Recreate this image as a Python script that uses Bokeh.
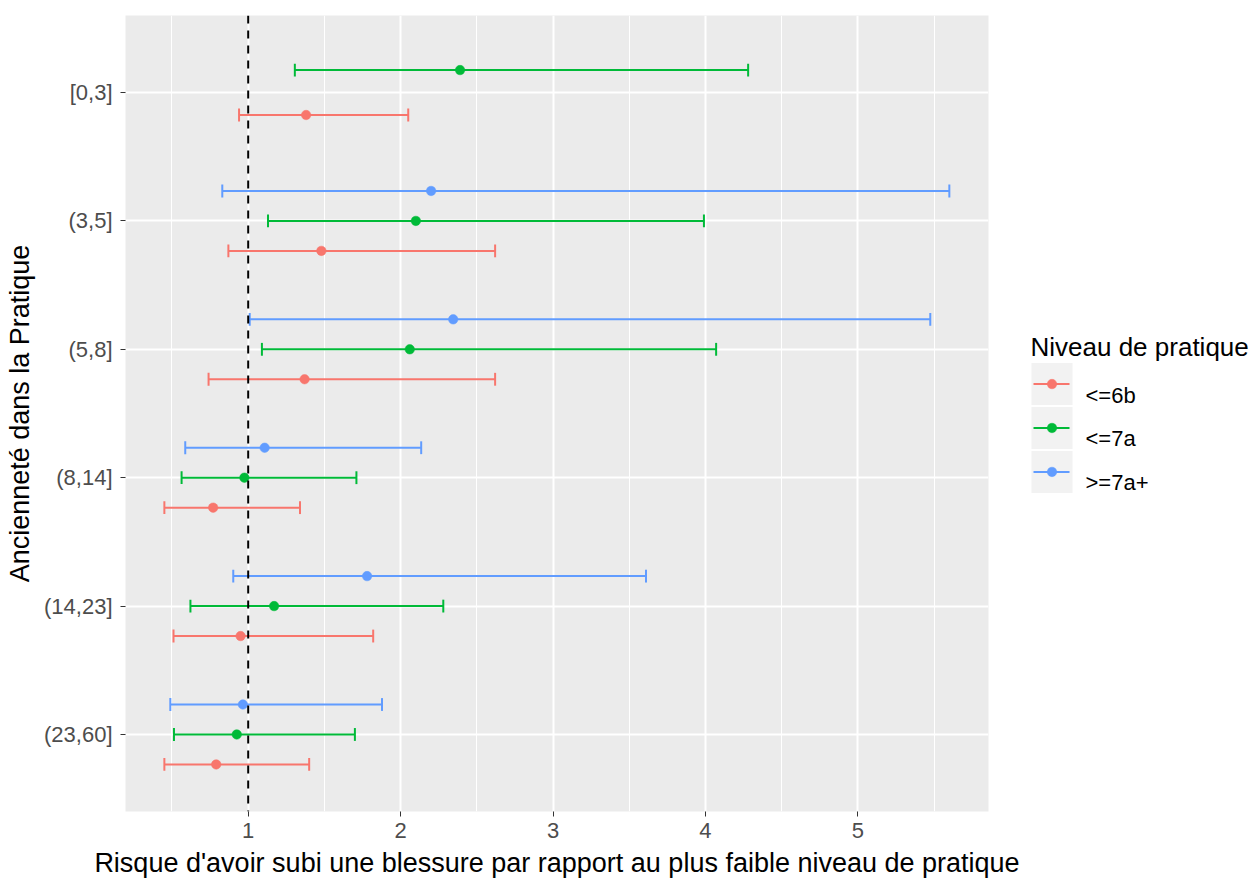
from bokeh.plotting import figure
from bokeh.models import FixedTicker, ColumnDataSource, Span, Range1d
from bokeh.layouts import row
from bokeh.embed import file_html
from bokeh.resources import INLINE
from bokeh.core.properties import value

# ---------------- data ----------------
categories = ["[0,3]", "(3,5]", "(5,8]", "(8,14]", "(14,23]", "(23,60]"]
levels = ["<=6b", "<=7a", ">=7a+"]
colors = ["#F8766D", "#00BA38", "#619CFF"]

est_6b = [1.38, 1.48, 1.37, 0.77, 0.95, 0.79]
low_6b = [0.94, 0.87, 0.74, 0.45, 0.51, 0.45]
high_6b = [2.05, 2.62, 2.62, 1.34, 1.82, 1.40]

est_7a = [2.39, 2.10, 2.06, 0.975, 1.17, 0.925]
low_7a = [1.306, 1.13, 1.09, 0.563, 0.621, 0.513]
high_7a = [4.28, 3.99, 4.07, 1.71, 2.28, 1.70]

est_7ap = [None, 2.20, 2.345, 1.108, 1.78, 0.965]
low_7ap = [None, 0.83, 1.01, 0.587, 0.902, 0.489]
high_7ap = [None, 5.60, 5.475, 2.135, 3.61, 1.878]

estimates = [est_6b, est_7a, est_7ap]
lows = [low_6b, low_7a, low_7ap]
highs = [high_6b, high_7a, high_7ap]

x_ticks = [1, 2, 3, 4, 5]
x_minor = [0.5, 1.5, 2.5, 3.5, 4.5, 5.5]
x_title = "Risque d'avoir subi une blessure par rapport au plus faible niveau de pratique"
y_title = "Ancienneté dans la Pratique"
legend_title = "Niveau de pratique"
ref_line = 1.0

FONT = "Liberation Sans"
DODGE = 0.7
CAP = 0.05
H = 880
FR_TOP, FR_BOTTOM, FR_LEFT, FR_RIGHT = 15, 812, 125, 988

# ---------------- main panel ----------------
n = len(categories)
cat_pos = {c: n - i for i, c in enumerate(categories)}   # top category first

MAIN_W = 1030
p = figure(width=MAIN_W, height=H,
           x_range=Range1d(0.195, 5.857), y_range=Range1d(0.4, n + 0.6),
           output_backend="svg", toolbar_location=None,
           min_border_left=FR_LEFT, min_border_right=MAIN_W - FR_RIGHT,
           min_border_top=FR_TOP, min_border_bottom=H - FR_BOTTOM)
p.background_fill_color = "#EBEBEB"
p.border_fill_color = "white"
p.outline_line_color = None

# dodge positions (like ggplot position_dodge(width=0.7))
ypos = [[None] * n for _ in levels]
for ci, c in enumerate(categories):
    present = [li for li in range(len(levels)) if estimates[li][ci] is not None]
    k = len(present)
    for j, li in enumerate(present):
        ypos[li][ci] = cat_pos[c] - DODGE / 2 + DODGE / k * (j + 0.5)

for li, lev in enumerate(levels):
    idx = [ci for ci in range(n) if estimates[li][ci] is not None]
    src = ColumnDataSource(dict(
        y=[ypos[li][ci] for ci in idx],
        ylo=[ypos[li][ci] - CAP for ci in idx],
        yhi=[ypos[li][ci] + CAP for ci in idx],
        est=[estimates[li][ci] for ci in idx],
        lo=[lows[li][ci] for ci in idx],
        hi=[highs[li][ci] for ci in idx],
    ))
    col = colors[li]
    p.segment(x0="lo", y0="y", x1="hi", y1="y", source=src, line_color=col, line_width=2)
    p.segment(x0="lo", y0="ylo", x1="lo", y1="yhi", source=src, line_color=col, line_width=2)
    p.segment(x0="hi", y0="ylo", x1="hi", y1="yhi", source=src, line_color=col, line_width=2)

for li, lev in enumerate(levels):
    idx = [ci for ci in range(n) if estimates[li][ci] is not None]
    src = ColumnDataSource(dict(
        y=[ypos[li][ci] for ci in idx],
        est=[estimates[li][ci] for ci in idx],
    ))
    p.scatter(x="est", y="y", source=src, size=9.5, fill_color=colors[li],
              line_color=colors[li], line_width=0.5)

p.add_layout(Span(location=ref_line, dimension="height", line_color="black",
                  line_dash="8 7", line_width=2))

# axes
xt = FixedTicker(ticks=x_ticks, minor_ticks=x_minor)
yt = FixedTicker(ticks=[cat_pos[c] for c in categories], minor_ticks=[])
p.xaxis.ticker = xt
p.yaxis.ticker = yt
p.xgrid.ticker = xt
p.ygrid.ticker = yt
p.yaxis.major_label_overrides = {cat_pos[c]: c for c in categories}

for ax in (p.xaxis, p.yaxis):
    ax.axis_line_color = None
    ax.major_tick_line_color = "#333333"
    ax.major_tick_line_width = 1
    ax.major_tick_out = 5
    ax.major_tick_in = 0
    ax.minor_tick_line_color = None
    ax.major_label_text_font = FONT
    ax.major_label_text_font_size = "22px"
    ax.major_label_text_color = "#4D4D4D"
    ax.axis_label_text_font = FONT
    ax.axis_label_text_font_size = "27px"
    ax.axis_label_text_font_style = "normal"
    ax.axis_label_text_color = "black"

p.xaxis.axis_label = x_title
p.yaxis.axis_label = y_title
p.xaxis.major_label_standoff = 6
p.xaxis.axis_label_standoff = 7
p.yaxis.major_label_standoff = 8
p.yaxis.axis_label_standoff = 6

p.xgrid.grid_line_color = "white"
p.xgrid.grid_line_width = 2
p.xgrid.minor_grid_line_color = "white"
p.xgrid.minor_grid_line_width = 1
p.ygrid.grid_line_color = "white"
p.ygrid.grid_line_width = 2

# ---------------- legend panel ----------------
# y range expressed in page pixels (calibrated to where this panel's frame lands)
L_LEFT, L_RIGHT = MAIN_W, 1254
L_SHIFT = 6
leg = figure(width=L_RIGHT - L_LEFT, height=H,
             x_range=Range1d(L_LEFT, L_RIGHT),
             y_range=Range1d(FR_BOTTOM + L_SHIFT, FR_TOP + L_SHIFT),
             x_axis_location=None, y_axis_location=None,
             output_backend="svg", toolbar_location=None,
             min_border=0, min_border_top=FR_TOP, min_border_bottom=H - FR_BOTTOM)
leg.grid.visible = False
leg.outline_line_color = None
leg.background_fill_color = "white"
leg.border_fill_color = "white"

key_x0, key_w, key_top0, key_h, key_pitch = 1031, 41, 369, 42, 44
k_tops = [key_top0 + key_pitch * i for i in range(len(levels))]
k_mid = [t + key_h / 2 for t in k_tops]
leg.quad(left=[key_x0] * len(levels), right=[key_x0 + key_w] * len(levels),
         top=k_tops, bottom=[t + key_h for t in k_tops],
         fill_color="#F2F2F2", line_color=None)
leg.segment(x0=[key_x0 + 2] * len(levels), x1=[key_x0 + key_w - 3] * len(levels),
            y0=k_mid, y1=k_mid, line_color=colors, line_width=2)
leg.scatter(x=[key_x0 + key_w / 2] * len(levels), y=k_mid, size=9.5,
            fill_color=colors, line_color=colors, line_width=0.5)
leg.text(x=[key_x0 + key_w + 13] * len(levels), y=[m + 11 for m in k_mid], text=levels,
         text_font=value(FONT), text_font_size=value("22px"), text_color="black",
         text_baseline="alphabetic", text_align="left")
leg.text(x=[1030], y=[353], text=[legend_title],
         text_font=value(FONT), text_font_size=value("26px"), text_color="black",
         text_baseline="alphabetic", text_align="left")

layout = row(p, leg)
with open("out.html", "w", encoding="utf-8") as f:
    f.write(file_html(layout, INLINE))
